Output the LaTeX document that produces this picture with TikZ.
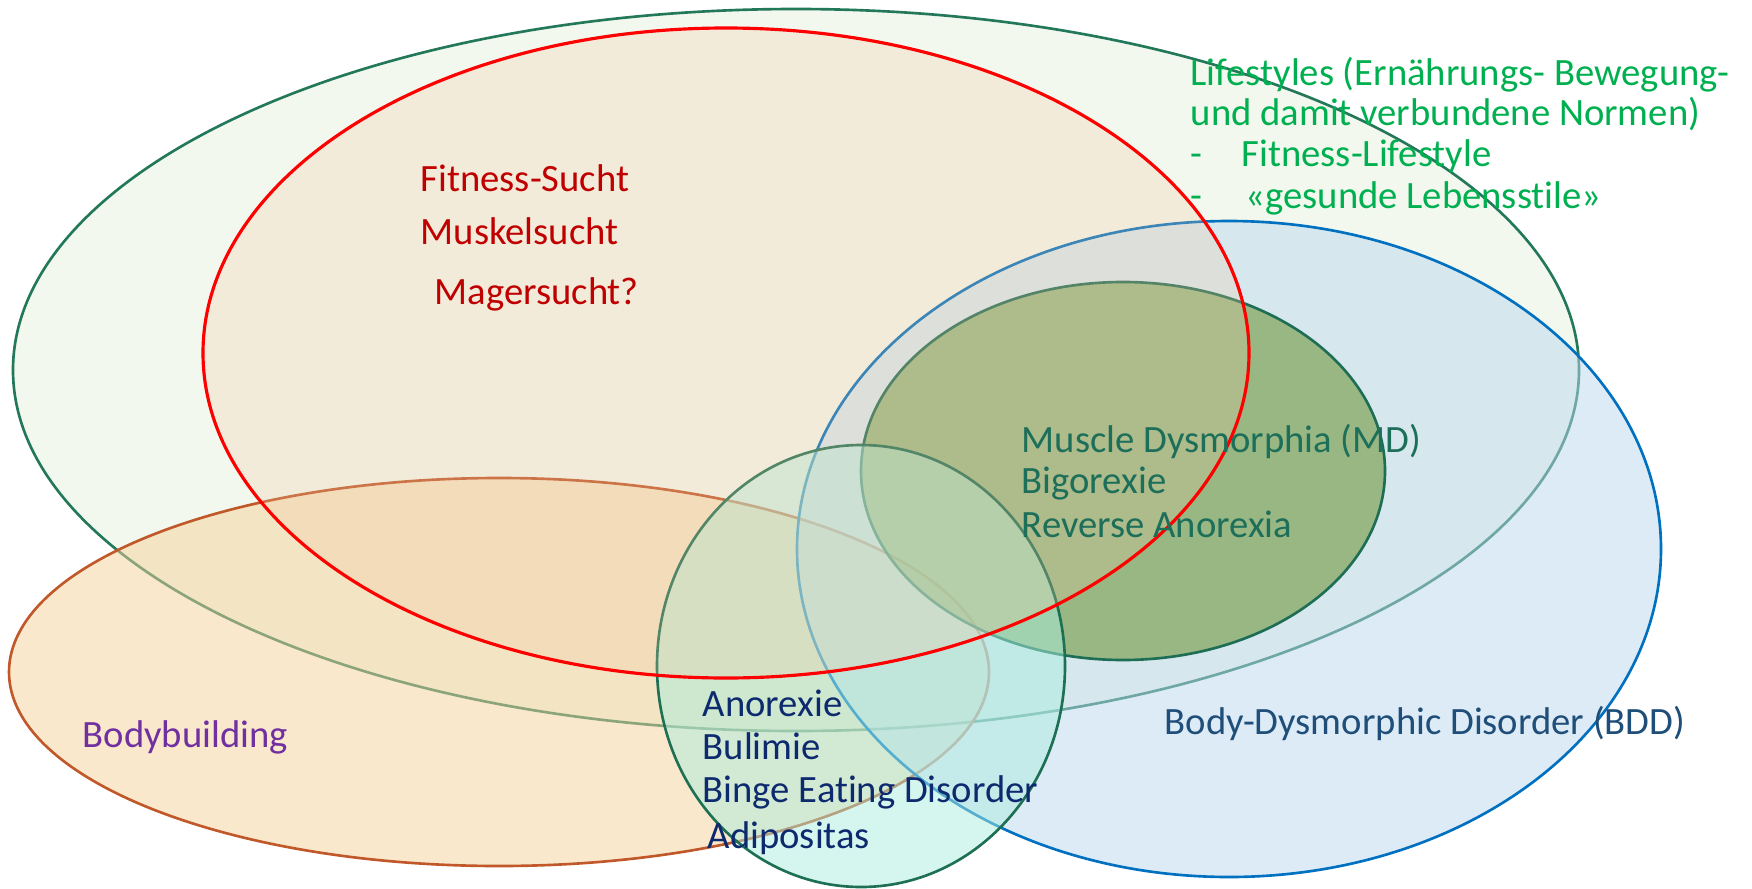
\documentclass[tikz,border=0pt]{standalone}
\usepackage{fontspec}
\setmainfont{Carlito}[Ligatures=NoCommon]
\definecolor{lifeline}{HTML}{23785A}
\definecolor{lifefill}{HTML}{F2F8EE}
\definecolor{lifetext}{HTML}{00B050}
\definecolor{fitline}{HTML}{FF0000}
\definecolor{fitfill}{HTML}{F2C8A0}
\definecolor{fittext}{HTML}{C00000}
\definecolor{bodyline}{HTML}{C0582A}
\definecolor{bodyfill}{HTML}{F5D199}
\definecolor{bodytext}{HTML}{7030A0}
\definecolor{bddline}{HTML}{0070C0}
\definecolor{bddfill}{HTML}{BBD7EF}
\definecolor{bddtext}{HTML}{1F4E79}
\definecolor{mdline}{HTML}{1E6E55}
\definecolor{mdfill}{HTML}{6F983D}
\definecolor{mdtext}{HTML}{1D6F5A}
\definecolor{eatline}{HTML}{1E7055}
\definecolor{eatfill}{HTML}{ABEDDD}
\definecolor{eattext}{HTML}{0E2A6E}

\begin{document}
\begin{tikzpicture}[
    setline/.style={line width=0.75pt},
    itemtext/.style={anchor=base west, inner sep=0pt, font=\fontsize{11}{13}\selectfont},
]
    \useasboundingbox (0,0) rectangle (17.52,8.88);
    \draw[setline, draw=lifeline, fill=lifefill] (7.96,5.18) ellipse [x radius=7.83, y radius=3.61];
    \draw[setline, draw=bodyline, fill=bodyfill, fill opacity=0.5] (4.99,2.16) ellipse [x radius=4.90, y radius=1.94];
    \draw[setline, draw=bddline, fill=bddfill, fill opacity=0.5] (12.29,3.39) ellipse [x radius=4.32, y radius=3.28];
    \draw[setline, draw=mdline, fill=mdfill, fill opacity=0.6] (11.23,4.17) ellipse [x radius=2.62, y radius=1.89];
    \draw[setline, draw=eatline, fill=eatfill, fill opacity=0.5] (8.61,2.22) ellipse [x radius=2.04, y radius=2.21];
    \draw[line width=0.9pt, draw=fitline, fill=fitfill, fill opacity=0.25] (7.26,5.35) ellipse [x radius=5.23, y radius=3.25];

    \node[itemtext, lifetext] (life1) at (11.90,8.03) {Lifestyles (Ernährungs- Bewegung-};
    \node[itemtext, lifetext] (life2) at (11.90,7.63) {und damit verbundene Normen)};
    \node[itemtext, lifetext] (life3) at (11.90,7.22) {\makebox[0.51cm][l]{-}Fitness-Lifestyle};
    \node[itemtext, lifetext] (life4) at (11.90,6.80) {\makebox[0.55cm][l]{-}«gesunde Lebensstile»};

    \node[itemtext, fittext] (fitness) at (4.20,6.97) {Fitness-Sucht};
    \node[itemtext, fittext] (muskel) at (4.20,6.44) {Muskelsucht};
    \node[itemtext, fittext] (mager) at (4.34,5.84) {Magersucht?};

    \node[itemtext, mdtext] (md) at (10.21,4.36) {Muscle Dysmorphia (MD)};
    \node[itemtext, mdtext] (bigo) at (10.21,3.95) {Bigorexie};
    \node[itemtext, mdtext] (reverse) at (10.21,3.51) {Reverse Anorexia};

    \node[itemtext, eattext] (anorexie) at (7.02,1.72) {Anorexie};
    \node[itemtext, eattext] (bulimie) at (7.02,1.29) {Bulimie};
    \node[itemtext, eattext] (binge) at (7.02,0.86) {Binge Eating Disorder};
    \node[itemtext, eattext] (adipositas) at (7.07,0.40) {Adipositas};

    \node[itemtext, bddtext] (bdd) at (11.64,1.54) {Body-Dysmorphic Disorder (BDD)};
    \node[itemtext, bodytext] (bodybuilding) at (0.82,1.41) {Bodybuilding};
\end{tikzpicture}
\end{document}
